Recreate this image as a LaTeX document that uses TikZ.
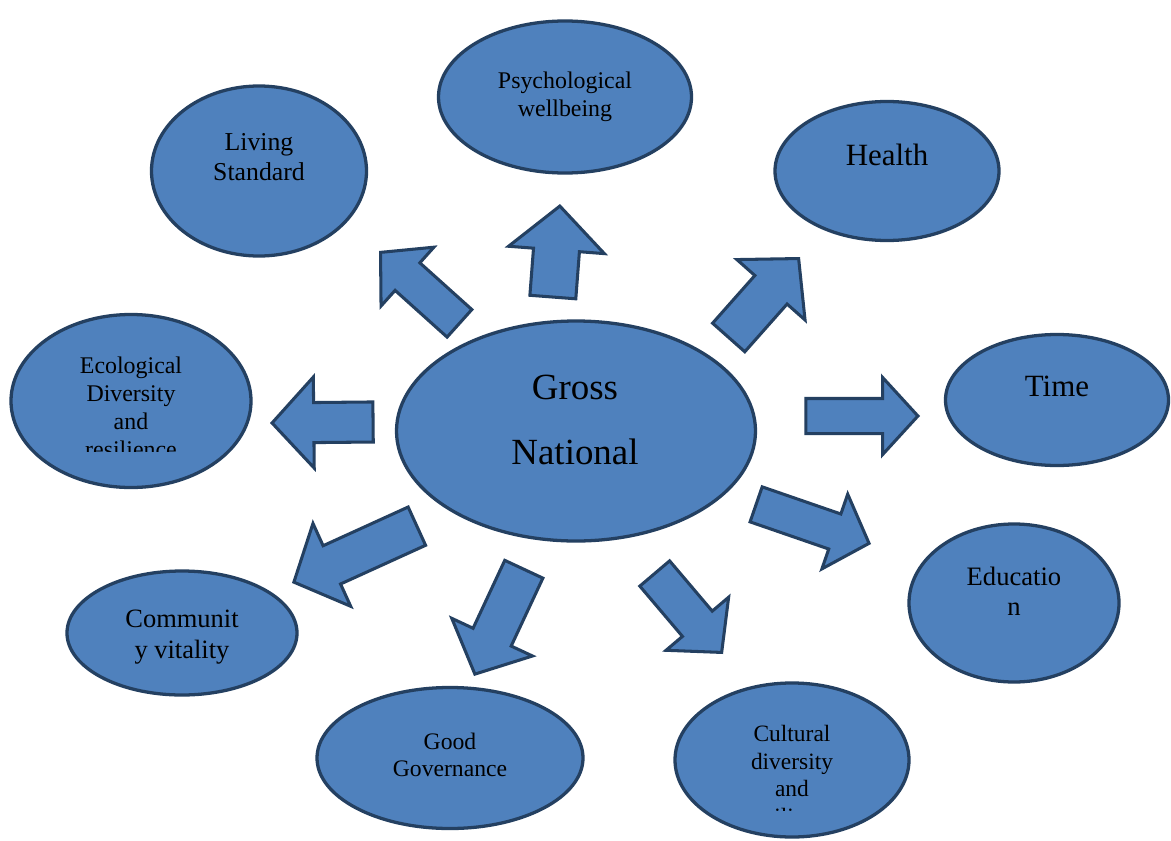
\documentclass[tikz,border=0pt]{standalone}
\usepackage{fontspec}
\setmainfont{Liberation Serif}
\usetikzlibrary{shapes.geometric, shapes.arrows, calc}
\definecolor{BubbleBlue}{RGB}{79, 129, 189}
\definecolor{BubbleEdge}{RGB}{36, 64, 97}

\tikzset{
  gnhbubble/.style={ellipse, draw=BubbleEdge, fill=BubbleBlue, line width=2.8pt, inner sep=0pt},
  gnhsize/.style 2 args={minimum width={0.03cm*#1}, minimum height={0.03cm*#2}},
  gnhtext/.style={align=center, text=black, inner sep=0pt},
  gnhblock/.style 2 args={single arrow, draw=BubbleEdge, fill=BubbleBlue, line width=2.6pt,
    inner xsep=0pt, inner ysep={0.015cm*#1}, single arrow head extend={0.015cm*(#2-#1)},
    single arrow tip angle=95},
}
\newcommand{\gnhfont}[2]{\fontsize{#1}{#2}\selectfont}
% block arrow from tail to tip: #1 tail, #2 tip, #3 shaft, #4 head (px)
\newcommand{\gnharrow}[4]{%
  \path let \p1=(#1), \p2=(#2), \n1={atan2(\y2-\y1,\x2-\x1)}, \n2={veclen(\x2-\x1,\y2-\y1)} in
    node[gnhblock={#3}{#4}, rotate=\n1, minimum height=\n2, anchor=tip] at (#2) {};}

\begin{document}
\begin{tikzpicture}[x=0.03cm, y=-0.03cm]
  \useasboundingbox[fill=white] (0,0) rectangle (1171,841);

  % bubbles
  \node[gnhbubble, gnhsize={359}{220}] (gnh) at (576,431) {};
  \node[gnhbubble, gnhsize={253}{152}] (psy) at (565,97) {};
  \node[gnhbubble, gnhsize={215}{170}] (liv) at (259,171) {};
  \node[gnhbubble, gnhsize={224}{139}] (hea) at (887,171) {};
  \node[gnhbubble, gnhsize={240}{173}] (eco) at (131,401) {};
  \node[gnhbubble, gnhsize={223}{131}] (tim) at (1057,400) {};
  \node[gnhbubble, gnhsize={210}{158}] (edu) at (1014,603) {};
  \node[gnhbubble, gnhsize={230}{124}] (com) at (182,633) {};
  \node[gnhbubble, gnhsize={266}{141}] (gov) at (450,758) {};
  \node[gnhbubble, gnhsize={234}{154}] (cul) at (792,760) {};

  % labels
  \node[gnhtext, font=\gnhfont{31.5}{55}] (gnhlabel) at ($(gnh.center)+(-1,-11)$) {Gross\\National};
  \node[gnhtext, font=\gnhfont{20.4}{23.8}] (psylabel) at ($(psy.center)+(0,0)$) {Psychological\\wellbeing};
  \node[gnhtext, font=\gnhfont{22}{25.5}] (livlabel) at ($(liv.center)+(0,-14)$) {Living\\Standard};
  \node[gnhtext, font=\gnhfont{26.4}{30}] (healabel) at ($(hea.center)+(0,-16)$) {Health};
  \node[gnhtext, font=\gnhfont{26.4}{30}] (timlabel) at ($(tim.center)+(0,-14)$) {Time};
  \node[gnhtext, font=\gnhfont{22.7}{25.5}] (edulabel) at ($(edu.center)+(0,-12)$) {Educatio\\n};
  \node[gnhtext, font=\gnhfont{22.6}{26.4}] (comlabel) at ($(com.center)+(0,4)$) {Communit\\y vitality};
  \node[gnhtext, font=\gnhfont{20.2}{23}] (govlabel) at ($(gov.center)+(0,-3)$) {Good\\Governance};
  \begin{scope}
    \clip (0,0) rectangle (1171,451);
    \node[gnhtext, font=\gnhfont{20.4}{23.8}] (ecolabel) at ($(eco.center)+(0,6)$) {Ecological\\Diversity\\and\\resilience};
  \end{scope}
  \begin{scope}
    \clip (0,0) rectangle (1171,810);
    \node[gnhtext, font=\gnhfont{20}{23.8}] (cullabel) at ($(cul.center)+(0,15)$) {Cultural\\diversity\\and\\resilience};
  \end{scope}

  % arrows
  \coordinate (psyt) at (553,295); \coordinate (psyh) at (560,204);
  \coordinate (livt) at (458,322); \coordinate (livh) at (379,251);
  \coordinate (heat) at (730,336); \coordinate (heah) at (800,257);
  \coordinate (timt) at (808,416); \coordinate (timh) at (920,416);
  \coordinate (ecot) at (371,422); \coordinate (ecoh) at (270,423);
  \coordinate (edut) at (758,505); \coordinate (eduh) at (871,544);
  \coordinate (cult) at (656,575); \coordinate (culh) at (723,654);
  \coordinate (govt) at (523,571); \coordinate (govh) at (474,676);
  \coordinate (comt) at (415,527); \coordinate (comh) at (292,583);
  \gnharrow{psyt}{psyh}{43}{93}
  \gnharrow{livt}{livh}{34}{76}
  \gnharrow{heat}{heah}{40}{88}
  \gnharrow{timt}{timh}{32}{74}
  \gnharrow{ecot}{ecoh}{37}{88}
  \gnharrow{edut}{eduh}{34}{76}
  \gnharrow{cult}{culh}{36}{79}
  \gnharrow{govt}{govh}{39}{86}
  \gnharrow{comt}{comh}{39}{88}
\end{tikzpicture}
\end{document}
